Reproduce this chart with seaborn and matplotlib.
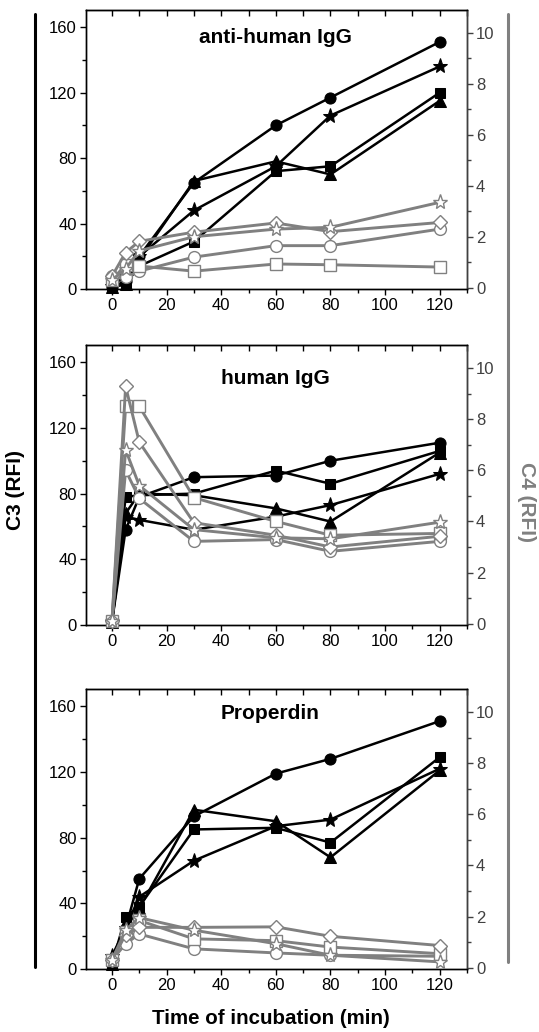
import seaborn as sns
import matplotlib.pyplot as plt
from matplotlib.lines import Line2D
from matplotlib.ticker import MultipleLocator

time = [0, 5, 10, 30, 60, 80, 120]
titles = ["anti-human IgG", "human IgG", "Properdin"]

# C3 (left axis, filled black markers)
aigg_c3_circle = [1, 5, 20, 65, 100, 117, 151]
aigg_c3_square = [1, 3, 14, 29, 72, 75, 120]
aigg_c3_triangle = [1, 3, 18, 66, 78, 70, 115]
aigg_c3_star = [2, 8, 20, 48, 75, 106, 136]

higg_c3_circle = [2, 58, 78, 90, 91, 100, 111]
higg_c3_square = [2, 78, 79, 80, 94, 86, 106]
higg_c3_triangle = [2, 68, 80, 79, 71, 63, 105]
higg_c3_star = [2, 66, 64, 58, 66, 73, 92]

prop_c3_circle = [4, 25, 55, 93, 119, 128, 151]
prop_c3_square = [3, 32, 38, 85, 86, 77, 129]
prop_c3_triangle = [3, 25, 37, 97, 90, 68, 121]
prop_c3_star = [8, 25, 44, 66, 87, 91, 122]

# C4 (right axis, open grey markers)
aigg_c4_circle = [0.45, 0.4, 0.65, 1.2, 1.65, 1.65, 2.3]
aigg_c4_square = [0.3, 0.9, 0.85, 0.65, 0.93, 0.9, 0.81]
aigg_c4_diamond = [0.45, 1.38, 1.82, 2.18, 2.54, 2.2, 2.56]
aigg_c4_star = [0.3, 0.75, 1.45, 2.0, 2.3, 2.37, 3.35]

higg_c4_circle = [0.1, 6.0, 4.9, 3.22, 3.29, 2.83, 3.22]
higg_c4_square = [0.1, 8.5, 8.5, 4.93, 4.0, 3.46, 3.53]
higg_c4_diamond = [0.1, 9.28, 7.1, 3.95, 3.46, 3.0, 3.42]
higg_c4_star = [0.1, 6.8, 5.4, 3.68, 3.36, 3.32, 3.97]

prop_c4_circle = [0.3, 0.94, 1.32, 0.74, 0.58, 0.49, 0.45]
prop_c4_square = [0.3, 1.38, 1.85, 1.13, 1.06, 0.81, 0.55]
prop_c4_diamond = [0.3, 1.3, 1.58, 1.58, 1.6, 1.23, 0.87]
prop_c4_star = [0.3, 1.48, 1.96, 1.47, 0.94, 0.49, 0.23]

c3_sets = [
    [aigg_c3_circle, aigg_c3_square, aigg_c3_triangle, aigg_c3_star],
    [higg_c3_circle, higg_c3_square, higg_c3_triangle, higg_c3_star],
    [prop_c3_circle, prop_c3_square, prop_c3_triangle, prop_c3_star],
]
c4_sets = [
    [aigg_c4_circle, aigg_c4_square, aigg_c4_diamond, aigg_c4_star],
    [higg_c4_circle, higg_c4_square, higg_c4_diamond, higg_c4_star],
    [prop_c4_circle, prop_c4_square, prop_c4_diamond, prop_c4_star],
]
c3_markers = [("o", 8), ("s", 7.5), ("^", 8.5), ("*", 11)]
c4_markers = [("o", 8.5), ("s", 8), ("D", 7), ("*", 11)]

sns.set_style("ticks")
plt.rcParams['font.family'] = ['Liberation Sans', 'DejaVu Sans']
plt.rcParams.update({"axes.edgecolor": "black", "xtick.color": "black",
                     "ytick.color": "black", "text.color": "black",
                     "axes.labelcolor": "black"})
GREY = "#808080"

fig = plt.figure(figsize=(5.39, 10.32), dpi=100)
positions = [(0.1596, 0.7200, 0.7069, 0.2703),
             (0.1596, 0.3944, 0.7069, 0.2713),
             (0.1596, 0.0610, 0.7069, 0.2713)]
title_pos = [(0.496, 0.90), (0.496, 0.882), (0.483, 0.914)]

for i, pos in enumerate(positions):
    ax = fig.add_axes(pos)
    ax2 = ax.twinx()
    for vals, (mk, ms) in zip(c3_sets[i], c3_markers):
        sns.lineplot(x=time, y=vals, ax=ax, color="black", marker=mk,
                     markersize=ms, markeredgecolor="black", markerfacecolor="black",
                     linewidth=1.8, clip_on=False, zorder=3)
    for vals, (mk, ms) in zip(c4_sets[i], c4_markers):
        sns.lineplot(x=time, y=vals, ax=ax2, color=GREY, marker=mk,
                     markersize=ms, markeredgecolor=GREY, markerfacecolor="white",
                     markeredgewidth=1.0, linewidth=2.1, clip_on=False, zorder=3)

    ax.set_xlim(-9.5, 130)
    ax.set_ylim(0, 170.5)
    ax2.set_ylim(-0.05, 10.9)
    ax.xaxis.set_major_locator(MultipleLocator(20))
    ax.xaxis.set_minor_locator(MultipleLocator(10))
    ax.yaxis.set_major_locator(MultipleLocator(40))
    ax.yaxis.set_minor_locator(MultipleLocator(20))
    ax2.yaxis.set_major_locator(MultipleLocator(2))
    ax2.yaxis.set_minor_locator(MultipleLocator(1))

    ax.tick_params(axis="both", which="major", direction="out", length=4.5,
                   width=1.0, labelsize=12, colors="black", pad=2)
    ax.tick_params(axis="both", which="minor", direction="out", length=3, width=1.0)
    ax2.tick_params(axis="y", which="major", direction="out", length=4.5,
                    width=1.0, labelsize=12, colors="#404040", pad=2)
    ax2.tick_params(axis="y", which="minor", direction="out", length=3,
                    width=1.0, colors="#404040")

    top = ax.secondary_xaxis("top")
    top.xaxis.set_major_locator(MultipleLocator(10))
    top.tick_params(direction="in", length=4, width=1.0, labeltop=False)

    for s in ax.spines.values():
        s.set_linewidth(1.0)
    for s in ax2.spines.values():
        s.set_linewidth(1.0)
    ax2.spines["right"].set_color("#404040")
    ax.set_xlabel("")
    ax.set_ylabel("")
    ax2.set_ylabel("")

    ax.text(title_pos[i][0], title_pos[i][1], titles[i], transform=ax.transAxes,
            ha="center", va="center", fontsize=15, fontweight="bold")

fig.text(0.503, 0.0135, "Time of incubation (min)", ha="center", va="center",
         fontsize=14.8, fontweight="bold")
fig.text(0.028, 0.525, "C3 (RFI)", rotation=90, ha="center", va="center",
         fontsize=15, fontweight="bold")
fig.text(0.976, 0.514, "C4 (RFI)", rotation=270, ha="center", va="center",
         fontsize=15, fontweight="bold", color=GREY)

fig.add_artist(Line2D([35 / 539, 35 / 539], [1 - 14 / 1032, 1 - 967 / 1032],
                      color="black", linewidth=2.2))
fig.add_artist(Line2D([508 / 539, 508 / 539], [1 - 14 / 1032, 1 - 962 / 1032],
                      color=GREY, linewidth=2.2))

fig.savefig("out.png", dpi=100)
